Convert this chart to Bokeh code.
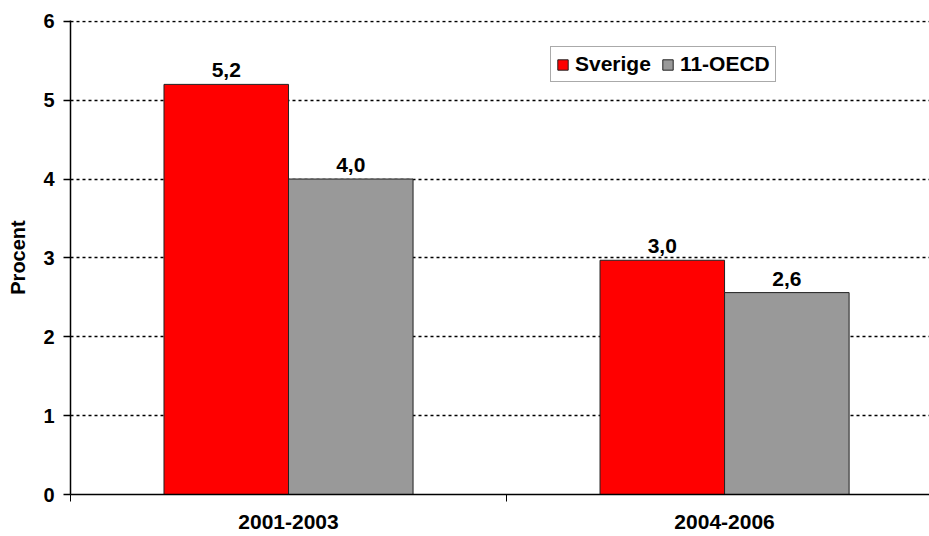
from bokeh.plotting import figure
from bokeh.models import (ColumnDataSource, FixedTicker, LinearAxis, Legend, LegendItem,
                          Range1d, LabelSet)
from bokeh.core.properties import value
from bokeh.embed import file_html
from bokeh.resources import INLINE

categories = ["2001-2003", "2004-2006"]
series_names = ["Sverige", "11-OECD"]
sverige = [5.2, 2.97]
oecd = [4.0, 2.56]
y_ticks = [0, 1, 2, 3, 4, 5, 6]

FONT = "Liberation Sans"
bar_w = 0.2856
cat_pos = [i + 0.5 for i in range(len(categories))]

def fmt(v):
    return f"{v:.1f}".replace(".", ",")

src_s = ColumnDataSource(dict(x=[c - bar_w / 2 for c in cat_pos], top=sverige,
                              lab=[fmt(v) for v in sverige]))
src_o = ColumnDataSource(dict(x=[c + bar_w / 2 for c in cat_pos], top=oecd,
                              lab=[fmt(v) for v in oecd]))

p = figure(width=929, height=536, output_backend="svg", toolbar_location=None,
           x_range=Range1d(0, 1.970), y_range=Range1d(0, 6.01),
           min_border_left=70, min_border_right=0, min_border_top=20, min_border_bottom=42)
p.outline_line_color = None
p.background_fill_color = "white"

# grid
p.xgrid.grid_line_color = None
p.ygrid.ticker = FixedTicker(ticks=y_ticks[1:])
p.ygrid.grid_line_color = "black"
p.ygrid.grid_line_dash = "3 3"
p.ygrid.grid_line_width = 1.6

rs = p.vbar(x="x", top="top", width=bar_w, source=src_s, fill_color="#FF0000",
            line_color="#222222", line_width=1)
ro = p.vbar(x="x", top="top", width=bar_w, source=src_o, fill_color="#999999",
            line_color="#222222", line_width=1)

for src in (src_s, src_o):
    p.add_layout(LabelSet(x="x", y="top", text="lab", source=src, text_align="center",
                          text_baseline="bottom", y_offset=7, text_font=value(FONT),
                          text_font_style="bold", text_font_size="21px", text_color="black"))

# y axis
p.yaxis.ticker = FixedTicker(ticks=y_ticks)
p.yaxis.axis_label = "Procent"
p.yaxis.axis_label_text_font = FONT
p.yaxis.axis_label_text_font_style = "bold"
p.yaxis.axis_label_text_font_size = "20px"
p.yaxis.axis_label_text_color = "black"
p.yaxis.axis_label_standoff = 11
p.yaxis.major_label_text_font = FONT
p.yaxis.major_label_text_font_style = "bold"
p.yaxis.major_label_text_font_size = "20px"
p.yaxis.major_label_text_color = "black"
p.yaxis.major_label_standoff = 9
p.yaxis.major_tick_in = 0
p.yaxis.major_tick_out = 7
p.yaxis.minor_tick_line_color = None
p.yaxis.axis_line_color = "black"
p.yaxis.major_tick_line_color = "black"
p.yaxis.axis_line_width = 1.5
p.yaxis.major_tick_line_width = 1.3

# x axis: boundary ticks
p.xaxis.ticker = FixedTicker(ticks=[0, 1, 2])
p.xaxis.major_label_overrides = {0: "", 1: "", 2: ""}
p.xaxis.major_label_text_font_size = "1px"
p.xaxis.major_tick_in = 0
p.xaxis.major_tick_out = 7
p.xaxis.minor_tick_line_color = None
p.xaxis.axis_line_color = "black"
p.xaxis.major_tick_line_color = "black"
p.xaxis.axis_line_width = 1.5
p.xaxis.major_label_standoff = 0

lab_axis = LinearAxis(ticker=FixedTicker(ticks=cat_pos),
                      major_label_overrides={c: n for c, n in zip(cat_pos, categories)},
                      axis_line_color=None, major_tick_line_color=None,
                      minor_tick_line_color=None, major_label_standoff=7,
                      major_label_text_font=FONT, major_label_text_font_style="bold",
                      major_label_text_font_size="21px", major_label_text_color="black")
p.add_layout(lab_axis, "below")

legend = Legend(items=[LegendItem(label=series_names[0], renderers=[rs]),
                       LegendItem(label=series_names[1], renderers=[ro])],
                orientation="horizontal", location=(480, 412),
                label_text_font=FONT, label_text_font_style="bold",
                label_text_font_size="21px", label_text_color="black",
                glyph_width=13, glyph_height=13,
                label_standoff=6, spacing=10, padding=5, margin=0,
                border_line_color="#555555", border_line_width=1,
                background_fill_color="white", background_fill_alpha=1,
                label_height=19)
p.add_layout(legend, "center")

open("out.html", "w").write(file_html(p, INLINE))
